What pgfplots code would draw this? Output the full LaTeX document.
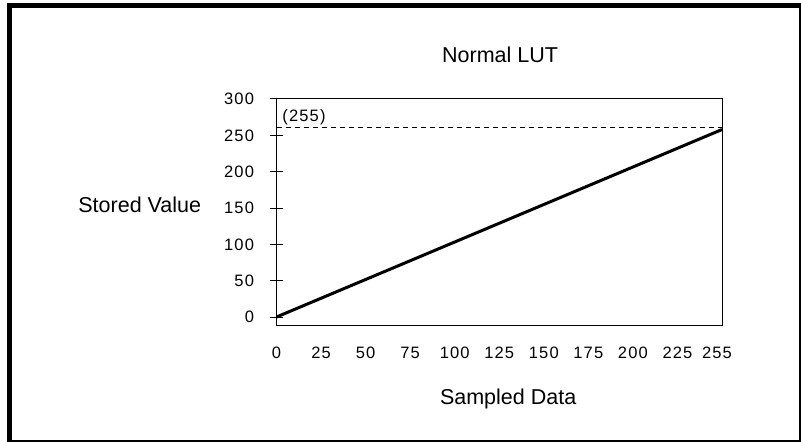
\documentclass[border=0pt]{standalone}
\usepackage{fontspec}
\setmainfont{Liberation Sans}
\newfontfamily\tickfont[LetterSpace=7]{Liberation Sans}
\usepackage{pgfplots}
\pgfplotsset{compat=1.18}
\begin{document}
\begin{tikzpicture}[x=1pt,y=1pt]
\path[use as bounding box] (0,0) rectangle (801,442);
% frame
\fill[black] (7,434.3) rectangle (801,438.7);
\fill[black] (7,0.5) rectangle (12,438.7);
\fill[black] (7,0.4) rectangle (801,2);
\fill[black] (799.2,0.4) rectangle (800.8,438.7);
\begin{axis}[
  at={(276.5pt,117pt)}, anchor=south west,
  scale only axis, width=445.5pt, height=226pt,
  xmin=0, xmax=250, ymin=-11, ymax=300,
  xtick={0,25,...,250},
  xticklabels={0,25,50,75,100,125,150,175,200,225,{\hspace*{-10pt}255}},
  ytick={0,50,...,300},
  ytick pos=left,
  x tick style={draw=none},
  y tick style={black, line width=1pt},
  major tick length=13pt,
  tick align=center,
  axis line style={black, line width=1pt},
  /pgf/number format/assume math mode=true,
  ticklabel style={font=\tickfont\fontsize{16.5}{19}\selectfont},
  yticklabel style={xshift=-12.5pt},
  xticklabel style={yshift=-11.5pt, text height=12pt, text depth=0pt},
  title={Normal LUT},
  title style={font=\fontsize{21.5}{25}\selectfont, at={(axis description cs:0.502,1.136)}, anchor=base},
  xlabel={Sampled Data},
  xlabel style={font=\fontsize{21.5}{25}\selectfont, at={(axis description cs:0.520,-0.350)}, anchor=base},
  ylabel={Stored Value},
  ylabel style={font=\fontsize{21.5}{25}\selectfont, rotate=-90, at={(axis description cs:-0.307,0.499)}, anchor=base},
  clip=false,
]
\addplot[black, line width=1.2pt, dash pattern=on 5pt off 4pt] coordinates {(0,261) (250,261)};
\addplot[black, line width=3pt] coordinates {(0,0) (250,258)};
\node[anchor=base west, inner sep=0pt, font=\tickfont\fontsize{16.5}{19}\selectfont] at (axis cs:3.2,268.5) {(255)};
\end{axis}
\end{tikzpicture}
\end{document}
